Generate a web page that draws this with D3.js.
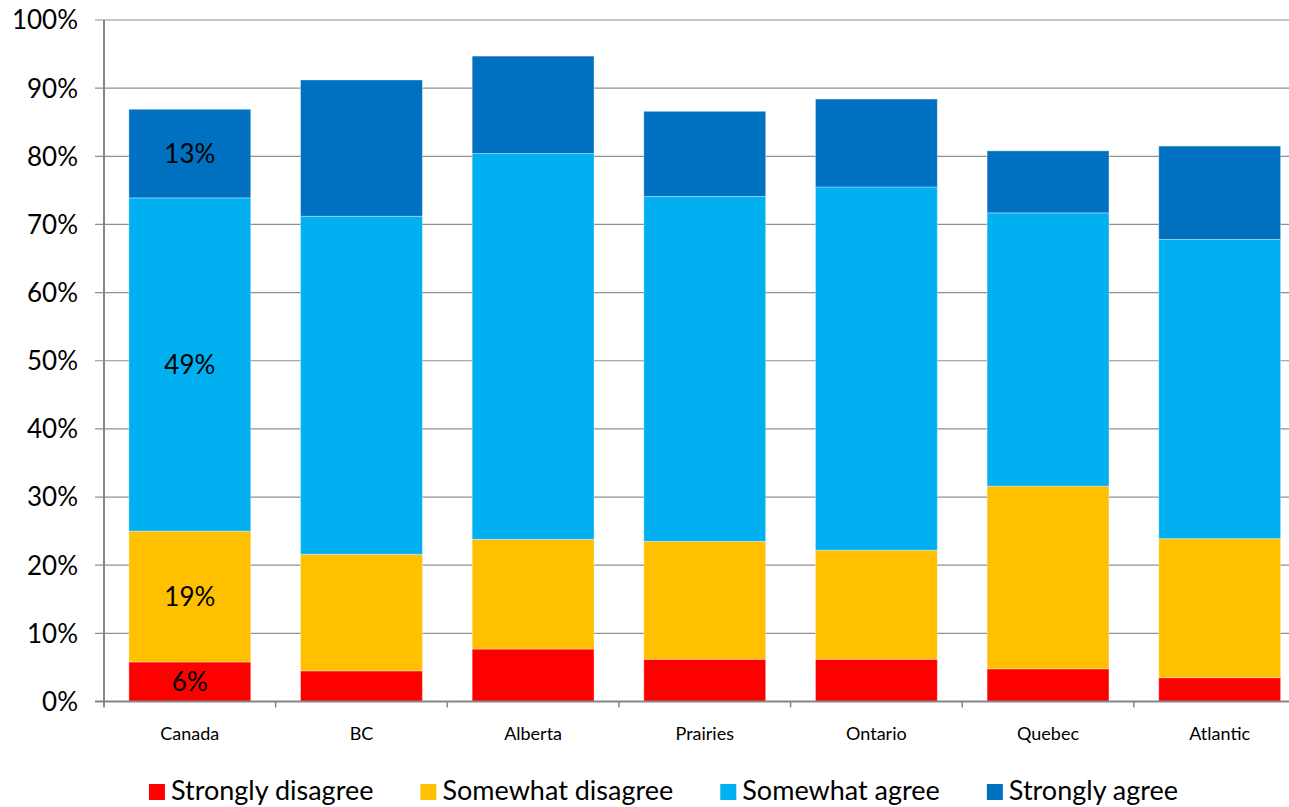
<!DOCTYPE html>
<html>
<head>
<meta charset="utf-8">
<script src="https://cdn.jsdelivr.net/npm/d3@7"></script>
<style>
  body { margin: 0; background: #fff; }
  svg { display: block; font-family: Lato, "Open Sans", sans-serif; }
</style>
</head>
<body>
<svg width="1289" height="807"></svg>
<script>
let categories = ["Canada", "BC", "Alberta", "Prairies", "Ontario", "Quebec", "Atlantic"];
let responses = ["Strongly disagree", "Somewhat disagree", "Somewhat agree", "Strongly agree"];
let colors = ["#ff0000", "#ffc000", "#00b0f0", "#0070c0"];

// percent of respondents
let stronglyDisagree = [5.8, 4.5, 7.7, 6.2, 6.2, 4.8, 3.5];
let somewhatDisagree = [19.2, 17.1, 16.1, 17.3, 16.0, 26.8, 20.4];
let somewhatAgree    = [48.9, 49.6, 56.6, 50.6, 53.3, 40.1, 43.9];
let stronglyAgree    = [13.0, 20.0, 14.3, 12.5, 12.9, 9.1, 13.7];

let yTicks = [0, 10, 20, 30, 40, 50, 60, 70, 80, 90, 100];
let labelled = ["Canada"];

let series = [stronglyDisagree, somewhatDisagree, somewhatAgree, stronglyAgree];
let table = categories.map(function(c, i) {
  let row = { category: c };
  responses.forEach(function(r, j) { row[r] = series[j][i]; });
  return row;
});

let svg = d3.select("svg"),
  width = +svg.attr("width"),
  height = +svg.attr("height");

let plotLeft = 104, plotRight = 1305.5, plotTop = 20, plotBottom = 701.5;

let x = d3.scaleBand()
  .domain(categories)
  .range([plotLeft, plotRight])
  .paddingInner(0.29)
  .paddingOuter(0.145);

let y = d3.scaleLinear()
  .domain([0, 100])
  .range([plotBottom, plotTop]);

let color = d3.scaleOrdinal().domain(responses).range(colors);

let stacked = d3.stack().keys(responses)(table);

// gridlines + y labels
svg.append("g").selectAll("line")
  .data(yTicks.filter(function(d) { return d > 0; }))
  .enter().append("line")
  .attr("x1", plotLeft - 9)
  .attr("x2", width)
  .attr("y1", function(d) { return y(d); })
  .attr("y2", function(d) { return y(d); })
  .attr("stroke", "#8f8f8f")
  .attr("stroke-width", 1.2);

svg.append("g").selectAll("text")
  .data(yTicks)
  .enter().append("text")
  .attr("x", 78)
  .attr("y", function(d) { return y(d); })
  .attr("dy", "0.36em")
  .attr("text-anchor", "end")
  .style("font-size", "26px")
  .attr("fill", "#000")
  .text(function(d) { return d + "%"; });

// bars
let layer = svg.append("g").selectAll("g")
  .data(stacked)
  .enter().append("g")
  .attr("fill", function(d) { return color(d.key); });

layer.selectAll("rect")
  .data(function(d) { return d; })
  .enter().append("rect")
  .attr("x", function(d) { return x(d.data.category); })
  .attr("width", x.bandwidth())
  .attr("y", function(d) { return y(d[1]); })
  .attr("height", function(d) { return y(d[0]) - y(d[1]); })
  .attr("stroke", "rgba(255,255,255,0.35)")
  .attr("stroke-width", 1);

// value labels (Canada only)
layer.selectAll("text")
  .data(function(d) {
    return d.filter(function(p) { return labelled.indexOf(p.data.category) >= 0; });
  })
  .enter().append("text")
  .attr("x", function(d) { return x(d.data.category) + x.bandwidth() / 2; })
  .attr("y", function(d) { return (y(d[0]) + y(d[1])) / 2; })
  .attr("dy", "0.36em")
  .attr("text-anchor", "middle")
  .attr("fill", "#000")
  .style("font-size", "26px")
  .text(function(d) { return Math.round(d[1] - d[0]) + "%"; });

// axes
svg.append("line")
  .attr("x1", plotLeft).attr("x2", plotLeft)
  .attr("y1", plotTop).attr("y2", plotBottom + 5)
  .attr("stroke", "#868686").attr("stroke-width", 2);

svg.append("line")
  .attr("x1", plotLeft - 9).attr("x2", width)
  .attr("y1", plotBottom).attr("y2", plotBottom)
  .attr("stroke", "#868686").attr("stroke-width", 2);

svg.append("g").selectAll("line")
  .data(d3.range(categories.length + 1))
  .enter().append("line")
  .attr("x1", function(i) { return plotLeft + i * x.step(); })
  .attr("x2", function(i) { return plotLeft + i * x.step(); })
  .attr("y1", plotBottom)
  .attr("y2", plotBottom + 6)
  .attr("stroke", "#868686")
  .attr("stroke-width", 1.5);

svg.append("g").selectAll("text")
  .data(categories)
  .enter().append("text")
  .attr("x", function(d) { return x(d) + x.bandwidth() / 2; })
  .attr("y", 740)
  .attr("text-anchor", "middle")
  .style("font-size", "18px")
  .attr("fill", "#000")
  .text(function(d) { return d; });

// legend, centred under the plot
let items = svg.append("g").selectAll("g")
  .data(responses)
  .enter().append("g");

items.append("rect")
  .attr("y", 784)
  .attr("width", 16)
  .attr("height", 16)
  .attr("fill", function(d) { return color(d); });

items.append("text")
  .attr("x", 22)
  .attr("y", 800)
  .style("font-size", "27px")
  .attr("fill", "#000")
  .text(function(d) { return d; });

let widths = [];
items.each(function() {
  widths.push(22 + d3.select(this).select("text").node().getComputedTextLength());
});
let total = d3.sum(widths) + 47 * (widths.length - 1);
let offset = 663.5 - total / 2;
items.attr("transform", function(d, i) {
  let t = "translate(" + offset + ",0)";
  offset += widths[i] + 47;
  return t;
});
</script>
</body>
</html>
